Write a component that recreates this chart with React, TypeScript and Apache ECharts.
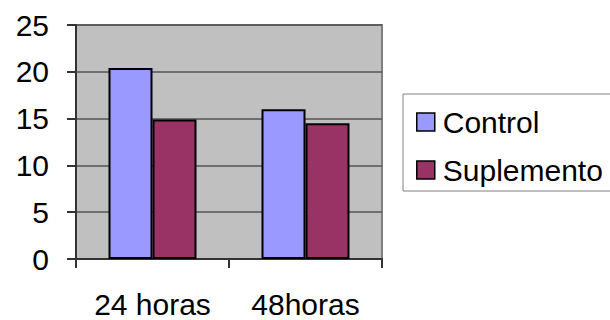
import React, { useEffect, useRef } from "react";
import * as echarts from "echarts";

const categories = ["24 horas", "48horas"];
const controlValues = [20.4, 16.0];
const suplementoValues = [14.9, 14.5];
const seriesNames = ["Control", "Suplemento"];

export default function App() {
  const ref = useRef<HTMLDivElement>(null);
  useEffect(() => {
    if (!ref.current) return;
    const chart = echarts.init(ref.current, undefined, { renderer: "svg" });
    const font = "'Liberation Sans', Arial, sans-serif";
    chart.setOption({
      animation: false,
      backgroundColor: "#ffffff",
      grid: {
        left: 76,
        right: 228,
        top: 25,
        bottom: 61,
        show: true,
        backgroundColor: "#c0c0c0",
        borderColor: "#808080",
        borderWidth: 2,
      },
      legend: {
        orient: "vertical",
        left: 403,
        top: 94,
        padding: [13, 40, 6, 13],
        itemGap: 18,
        itemWidth: 18,
        itemHeight: 18,
        icon: "rect",
        borderColor: "#808080",
        borderWidth: 1,
        data: seriesNames,
        textStyle: { fontSize: 30, color: "#000", fontFamily: font, padding: [0, 0, 0, 3] },
        itemStyle: { borderColor: "#000", borderWidth: 1.5 },
      },
      xAxis: {
        type: "category",
        data: categories,
        axisLine: { show: true, lineStyle: { color: "#333", width: 2 } },
        axisTick: { show: true, length: 9, lineStyle: { color: "#333", width: 2 } },
        axisLabel: { fontSize: 30, color: "#000", fontFamily: font, margin: 30 },
        splitLine: { show: false },
      },
      yAxis: {
        type: "value",
        min: 0,
        max: 25,
        interval: 5,
        axisLine: { show: true, lineStyle: { color: "#333", width: 2 } },
        axisTick: { show: true, length: 9, lineStyle: { color: "#333", width: 2 } },
        axisLabel: { fontSize: 30, color: "#000", fontFamily: font, margin: 27 },
        splitLine: { show: true, lineStyle: { color: "#555", width: 1.5 } },
      },
      series: [
        {
          name: seriesNames[0],
          type: "bar",
          data: controlValues,
          barWidth: 44,
          barGap: "0%",
          itemStyle: { color: "#9999ff", borderColor: "#000", borderWidth: 2 },
        },
        {
          name: seriesNames[1],
          type: "bar",
          data: suplementoValues,
          barWidth: 44,
          barGap: "0%",
          itemStyle: { color: "#993366", borderColor: "#000", borderWidth: 2 },
        },
      ],
    });
    return () => chart.dispose();
  }, []);
  return (
    <div
      ref={ref}
      style={{ position: "fixed", left: 0, top: 0, width: 610, height: 320 }}
    />
  );
}
